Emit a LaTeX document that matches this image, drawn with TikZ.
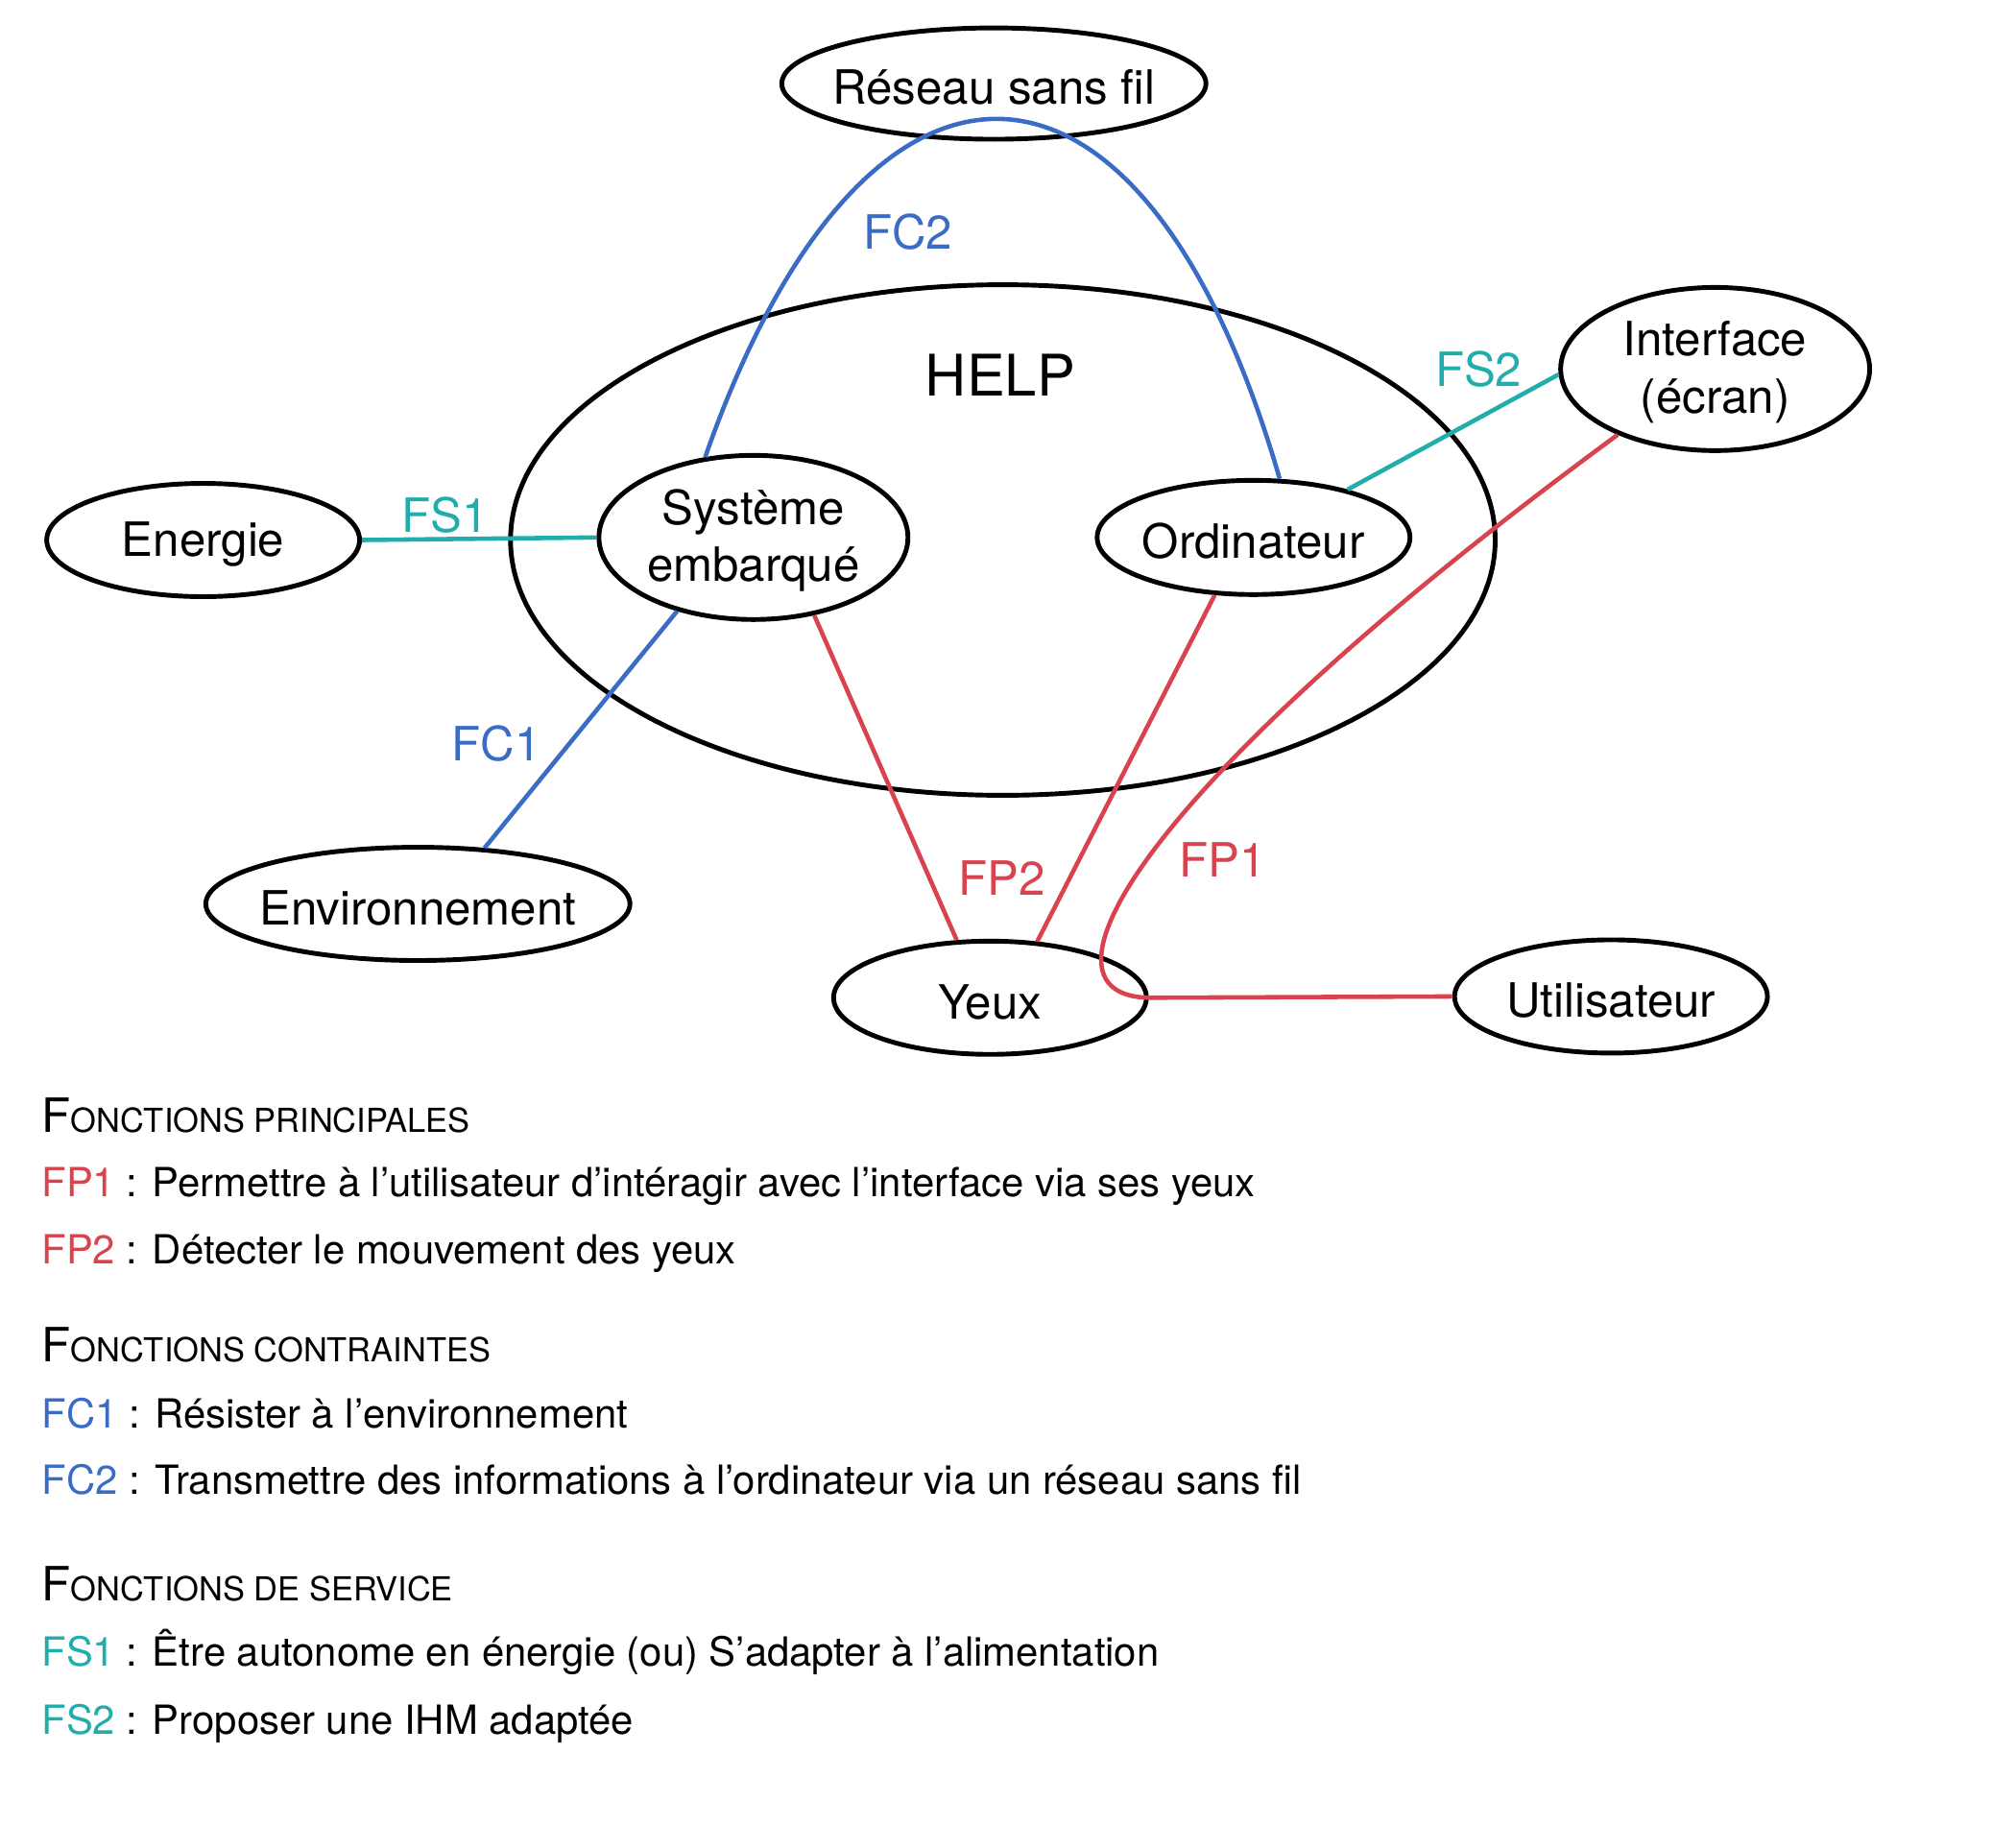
\documentclass[tikz,border=0pt]{standalone}
\usepackage{fontspec}
\setmainfont{TeX Gyre Heros}
\usetikzlibrary{shapes.geometric}
\definecolor{fprouge}{HTML}{D9434E}
\definecolor{fcbleu}{HTML}{3A6CC6}
\definecolor{fsvert}{HTML}{22ADAD}
\newcommand{\lbl}[1]{\makebox[0pt]{\raisebox{-1.2pt}[\height][\depth]{#1}}}
\newcommand{\titre}[1]{{\fontsize{14}{17}\selectfont F}{\fontsize{9.8}{12}\selectfont #1}}

\begin{document}
\begin{tikzpicture}[x=0.013393cm,y=-0.013393cm,
  font=\fontsize{14}{17}\selectfont,
  bulle/.style={draw,ellipse,line width=1.4pt,inner sep=0pt},
  fp/.style={fprouge,line width=1.3pt},
  fc/.style={fcbleu,line width=1.3pt},
  fs/.style={fsvert,line width=1.3pt},
  legende/.style={anchor=base west,inner sep=0pt,font=\fontsize{11.9}{14}\selectfont}]
\useasboundingbox (0,0) rectangle (1568,1418.7);
% frontiere du systeme
\node[bulle,minimum width=10.26cm,minimum height=5.32cm] (help) at (780,420) {};
\node[font=\fontsize{17}{20}\selectfont] (helptxt) at (778,292) {HELP};
% elements exterieurs
\node[bulle,minimum width=4.42cm,minimum height=1.16cm] (reseau) at (773,65) {\lbl{Réseau sans fil}};
\node[bulle,minimum width=3.26cm,minimum height=1.18cm] (energie) at (158,420) {\lbl{Energie}};
\node[bulle,minimum width=3.22cm,minimum height=1.71cm] (systeme) at (586,418) {\lbl{\begin{tabular}{@{}c@{}}Système\\embarqué\end{tabular}}};
\node[bulle,minimum width=3.26cm,minimum height=1.19cm] (ordi) at (975,418) {\lbl{Ordinateur}};
\node[bulle,minimum width=3.22cm,minimum height=1.70cm] (interface) at (1334,287) {\lbl{\begin{tabular}{@{}c@{}}Interface\\(écran)\end{tabular}}};
\node[bulle,minimum width=4.42cm,minimum height=1.18cm] (environ) at (325,703) {\lbl{Environnement}};
\node[bulle,minimum width=3.26cm,minimum height=1.18cm] (yeux) at (770,776) {\lbl{Yeux}};
\node[bulle,minimum width=3.26cm,minimum height=1.18cm] (utilisateur) at (1253,775) {\lbl{Utilisateur}};
% fonctions
\draw[fs] (energie.east) -- (systeme.west);
\node[fsvert] (fs1) at (346,401) {FS1};
\draw[fc] (systeme.224.5) -- (environ.40);
\node[fcbleu] (fc1) at (386,578) {FC1};
\draw[fc] (systeme.121) .. controls (672,2) and (888,2) .. (ordi.66.6);
\node[fcbleu] (fc2) at (706,180) {FC2};
\draw[fs] (ordi.27) -- (interface.182);
\node[fsvert] (fs2) at (1150,287) {FS2};
\draw[fp] (systeme.308.8) -- (yeux.120.6);
\draw[fp] (ordi.236.6) -- (yeux.50);
\node[fprouge] (fp2) at (779,683) {FP2};
\draw[fp] (interface.214) .. controls (885,612) and (795,774) .. (yeux.east) -- (utilisateur.west);
\node[fprouge] (fp1) at (951,669) {FP1};
% legende
\node[legende] (tfp) at (32,881) {\titre{ONCTIONS PRINCIPALES}};
\node[legende] (tfc) at (32,1059) {\titre{ONCTIONS CONTRAINTES}};
\node[legende] (tfs) at (32,1245) {\titre{ONCTIONS DE SERVICE}};
\foreach \y/\c/\k/\t in {931/fprouge/FP1/Permettre à l’utilisateur d’intéragir avec l’interface via ses yeux,
  983/fprouge/FP2/Détecter le mouvement des yeux,
  1111/fcbleu/FC1/Résister à l’environnement,
  1162/fcbleu/FC2/Transmettre des informations à l’ordinateur via un réseau sans fil,
  1296/fsvert/FS1/Être autonome en énergie (ou) S’adapter à l’alimentation,
  1349/fsvert/FS2/Proposer une IHM adaptée}
  \node[legende] (leg-\k) at (32,\y) {\textcolor{\c}{\k} : \t};
\end{tikzpicture}
\end{document}
